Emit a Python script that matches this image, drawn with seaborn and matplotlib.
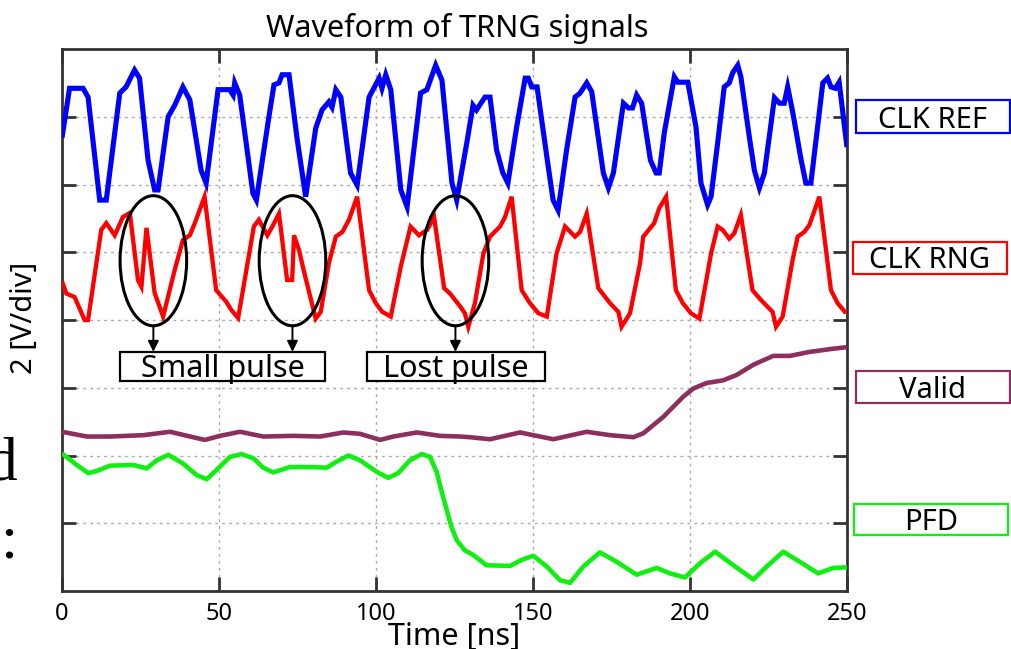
import matplotlib
matplotlib.use("Agg")
import matplotlib.pyplot as plt
from matplotlib.patches import Ellipse, Rectangle
import seaborn as sns

# ---- waveform samples (time in ns, level in divisions) ----
clk_ref_t = [0, 2.4, 6.7, 8.3, 12.0, 14.1, 18.4, 20.4, 23.1, 24.7, 27.4, 29.5, 30.6, 33.8, 35.9,
             38.5, 40.7, 44.3, 45.9, 49.7, 53.4, 54.5, 55.0, 56.6, 60.8, 61.9, 65.9, 67.5, 69.1,
             70.1, 72.3, 74.8, 77.6, 80.8, 82.8, 85.0, 86.0, 87.2, 88.8, 91.9, 94.0, 97.8, 101.0,
             101.9, 103.1, 104.7, 107.9, 109.9, 114.2, 116.2, 119.0, 121.0, 124.2, 125.7, 128.9,
             130.9, 132.0, 134.7, 136.3, 138.4, 140.4, 142.0, 144.8, 147.5, 148.5, 149.6, 151.3,
             154.4, 156.4, 158.0, 160.7, 163.4, 165.0, 167.1, 168.7, 172.4, 174.0, 175.6, 178.8,
             180.4, 181.7, 183.0, 184.6, 187.4, 189.2, 190.2, 191.8, 195.0, 196.1, 199.3, 201.9,
             203.5, 205.6, 206.7, 208.8, 210.9, 212.5, 213.6, 215.2, 216.2, 218.9, 220.5, 222.1,
             223.7, 226.9, 228.5, 230.0, 231.1, 232.7, 235.4, 236.9, 238.5, 242.3, 243.8, 244.9,
             246.3, 247.5, 250.0]
clk_ref_v = [6.69, 7.42, 7.42, 7.29, 5.77, 5.77, 7.35, 7.44, 7.69, 7.57, 6.36, 5.92, 5.92, 7.0, 7.17,
             7.44, 7.25, 6.21, 6.02, 7.4, 7.4, 7.32, 7.5, 7.32, 5.87, 5.77, 7.0, 7.47, 7.5,
             7.62, 7.62, 6.7, 5.82, 6.83, 7.1, 7.22, 7.14, 7.4, 7.29, 6.17, 5.99, 7.29, 7.57,
             7.42, 7.62, 7.4, 5.92, 5.67, 7.35, 7.4, 7.76, 7.54, 6.02, 5.77, 6.61,
             7.17, 7.1, 7.29, 7.29, 6.51, 6.17, 6.02, 6.85, 7.57, 7.57, 7.44, 7.44,
             6.41, 5.77, 5.62, 6.51, 7.29, 7.35, 7.5, 7.37, 6.17, 5.95, 6.17, 7.2,
             7.13, 7.13, 7.32, 7.2, 6.36, 6.17, 6.17, 6.76, 7.59, 7.51, 7.51, 6.85,
             6.02, 5.7, 5.82, 6.61, 7.44, 7.5, 7.65, 7.76, 7.59, 6.7, 6.21, 5.95,
             6.17, 7.28, 7.2, 7.2, 7.44, 7.07, 6.36, 6.02, 6.02, 7.5, 7.57, 7.44,
             7.42, 7.51, 6.55]

clk_rng_t = [0.0, 1.4, 4.0, 7.2, 8.3, 12.5, 14.1, 16.8, 19.4, 21.6, 24.2, 25.3, 26.9, 29.5, 32.2,
             35.9, 38.5, 40.7, 42.3, 45.4, 49.1, 52.3, 53.9, 56.1, 61.1, 62.7, 65.4, 67.0, 69.1,
             71.7, 73.3, 73.9, 75.5, 77.1, 80.8, 82.4, 85.0, 87.2, 89.3, 91.4, 94.0, 97.8, 99.9,
             102.0, 104.7, 107.9, 111.0, 113.7, 116.3, 118.5, 121.7, 123.6, 126.8, 128.3, 129.4,
             131.5, 134.2, 136.3, 139.5, 141.1, 143.2, 146.4, 149.0, 151.7, 154.4, 157.5, 160.2,
             163.4, 165.0, 167.1, 170.8, 174.5, 177.2, 178.2, 180.9, 184.1, 185.1, 186.0, 188.6,
             190.2, 192.4, 195.5, 197.7, 200.3, 203.0, 206.7, 208.8, 210.4, 212.5, 214.1, 216.2,
             219.9, 222.5, 226.3, 227.4, 229.5, 232.7, 234.3, 236.4, 238.0, 241.2, 244.9, 247.0,
             249.7]
clk_rng_v = [4.57, 4.39, 4.34, 4.0, 4.0, 5.33, 5.43, 5.25, 5.52, 5.58, 4.59, 4.49, 5.36, 4.4, 4.05,
             4.74, 5.18, 5.25, 5.43, 5.82, 4.44, 4.27, 4.15, 4.03, 5.38, 5.48, 5.25, 5.38, 5.57,
             4.59, 4.59, 5.25, 5.03, 4.71, 4.02, 4.12, 4.84, 5.23, 5.3, 5.48, 5.82, 4.44, 4.25,
             4.12, 4.05, 4.79, 5.38, 5.25, 5.33, 5.52, 4.47, 4.39, 4.2, 4.1, 3.9,
             4.25, 4.98, 5.23, 5.38, 5.52, 5.82, 4.44, 4.25, 4.1, 4.05, 4.98, 5.38,
             5.23, 5.3, 5.57, 4.47, 4.25, 4.12, 3.9, 4.1, 4.84, 5.23, 5.28, 5.43,
             5.65, 5.82, 4.44, 4.25, 4.1, 4.02, 4.98, 5.38, 5.33, 5.2, 5.28, 5.55,
             4.44, 4.3, 4.12, 3.9, 4.05, 4.89, 5.23, 5.3, 5.4, 5.82, 4.44, 4.25,
             4.1]

valid_t = [0, 7.9, 15.3, 25.9, 34.4, 40.8, 45.5, 50.3, 56.7, 64.1,
           73.7, 82.2, 89.6, 94.9, 101.3, 105.5, 113.0, 120.4, 126.8, 129.9,
           136.3, 145.9, 150.1, 156.5, 167.1, 174.5, 182.0, 185.2, 191.5, 197.9,
           201.1, 205.3, 210.6, 214.9, 220.2, 226.5, 231.8, 238.2, 244.6, 250]
valid_v = [2.35, 2.28, 2.28, 2.30, 2.35, 2.28, 2.23, 2.29, 2.35, 2.28,
           2.29, 2.28, 2.34, 2.32, 2.23, 2.28, 2.34, 2.29, 2.28, 2.27,
           2.24, 2.34, 2.30, 2.24, 2.35, 2.30, 2.27, 2.33, 2.57, 2.87,
           2.99, 3.07, 3.11, 3.19, 3.34, 3.47, 3.47, 3.53, 3.57, 3.60]

pfd_t = [0, 4.7, 8.4, 11.0, 15.3, 22.7, 27.0, 30.2, 33.9, 38.6,
         42.9, 46.1, 49.3, 53.5, 57.2, 60.9, 64.1, 67.3, 72.6, 79.0,
         84.3, 87.5, 91.2, 94.9, 100.2, 103.9, 107.1, 110.8, 114.6, 117.2,
         119.3, 121.0, 122.5, 124.0, 125.7, 128.3, 131.0, 135.2, 142.7, 146.4,
         150.1, 154.4, 158.6, 161.8, 166.0, 171.3, 176.7, 183.0, 189.4, 193.6,
         198.4, 203.2, 208.0, 213.8, 220.2, 224.4, 229.7, 235.0, 240.8, 245.6,
         250]
pfd_v = [2.03, 1.86, 1.74, 1.77, 1.85, 1.86, 1.81, 1.93, 2.01, 1.88,
         1.71, 1.65, 1.79, 1.98, 2.02, 1.96, 1.82, 1.75, 1.83, 1.83,
         1.82, 1.91, 2.0, 1.93, 1.76, 1.67, 1.74, 1.93, 2.02, 1.98,
         1.76, 1.45, 1.2, 0.95, 0.75, 0.6, 0.53, 0.38, 0.37, 0.46,
         0.52, 0.36, 0.16, 0.12, 0.36, 0.57, 0.43, 0.24, 0.34, 0.26,
         0.2, 0.41, 0.58, 0.38, 0.17, 0.36, 0.58, 0.43, 0.26, 0.34,
         0.35]

signal_names = ["CLK REF", "CLK RNG", "Valid", "PFD"]
signal_colors = ["#0000ff", "#ff0000", "#8c2f5f", "#11ee11"]
x_ticks = [0, 50, 100, 150, 200, 250]
y_grid = [1, 2, 3, 4, 5, 6, 7]

# centre times of the marked pulses
pulse_marks = [29.1, 73.4, 125.3]

sns.set_theme(style="white")
plt.rcParams["font.family"] = ["Noto Sans", "DejaVu Sans"]
plt.rcParams["text.color"] = "black"
plt.rcParams["xtick.labelcolor"] = "black"

W, H = 1012, 649
fig = plt.figure(figsize=(W / 100, H / 100), dpi=100)
ax = fig.add_axes([62 / W, 1 - 591 / H, 785 / W, 542 / H])

series = [(clk_ref_t, clk_ref_v, 3.7, "miter"), (clk_rng_t, clk_rng_v, 3.1, "miter"),
          (valid_t, valid_v, 3.3, "round"), (pfd_t, pfd_v, 3.3, "round")]
for (t, v, lw, join), col in zip(series, signal_colors):
    sns.lineplot(x=t, y=v, ax=ax, color=col, lw=lw, estimator=None, sort=False,
                 solid_joinstyle=join, solid_capstyle="butt", zorder=3)

ax.set_xlim(0, 250)
ax.set_ylim(0, 8)
ax.set_xticks(x_ticks)
ax.set_xticklabels([str(x) for x in x_ticks], fontsize=17, color="black")
ax.set_yticks(y_grid)
ax.set_yticklabels([])
ax.grid(True, ls=(0, (2, 3)), color="#aaaaaa", lw=1.0)
ax.tick_params(direction="in", length=10, width=2.0, color="#333333",
               top=True, right=True, bottom=True, left=True, pad=8)
for s in ax.spines.values():
    s.set_linewidth(2.0)
    s.set_color("#333333")
    s.set_visible(True)
ax.set_xlabel("")
ax.set_ylabel("")

# ellipses around the abnormal pulses, with arrows down to their captions
for cx in pulse_marks:
    ax.add_patch(Ellipse((cx, 4.875), 21.2, 1.92, fill=False, ec="black", lw=2.2, zorder=6))
    ax.annotate("", xy=(cx, 3.53), xytext=(cx, 3.9),
                arrowprops=dict(arrowstyle="-|>", color="black", lw=1.4,
                                mutation_scale=16, shrinkA=0, shrinkB=0), zorder=6)

ax.add_patch(Rectangle((18.5, 3.1), 65.3, 0.43, fc="white", ec="black", lw=1.6, zorder=6))
ax.text(51.2, 3.16, "Small pulse", ha="center", va="baseline", fontsize=22, zorder=7)
ax.add_patch(Rectangle((97.0, 3.1), 56.8, 0.43, fc="white", ec="black", lw=1.6, zorder=6))
ax.text(125.4, 3.16, "Lost pulse", ha="center", va="baseline", fontsize=22, zorder=7)

# signal name tags on the right
tag_boxes = [(856, 100, 1010, 133), (853, 242, 1007, 274), (856, 371, 1010, 403), (854, 504, 1008, 535)]
for name, col, (x0, y0, x1, y1) in zip(signal_names, signal_colors, tag_boxes):
    fig.add_artist(Rectangle((x0 / W, 1 - y1 / H), (x1 - x0) / W, (y1 - y0) / H,
                             transform=fig.transFigure, fill=False, ec=col, lw=1.6))
    fig.text((x0 + x1) / 2 / W, 1 - (y1 - 5.5) / H, name, ha="center", va="baseline",
             fontsize=21)

fig.text(457 / W, 1 - 37 / H, "Waveform of TRNG signals", ha="center", va="baseline", fontsize=22)
fig.text(454.5 / W, 1 - 645 / H, "Time [ns]", ha="center", va="baseline", fontsize=22)
fig.text(25 / W, 1 - 318 / H, "2 [V/div]", ha="center", va="center", rotation=90, fontsize=21)

# fragments of the surrounding body text
serif = ["Liberation Serif", "DejaVu Serif"]
fig.text(17 / W, 1 - 480 / H, "d", ha="right", va="baseline", fontsize=44, family=serif)
fig.text(17 / W, 1 - 558 / H, ":", ha="right", va="baseline", fontsize=44, family=serif)

fig.savefig("out.png", dpi=100)
